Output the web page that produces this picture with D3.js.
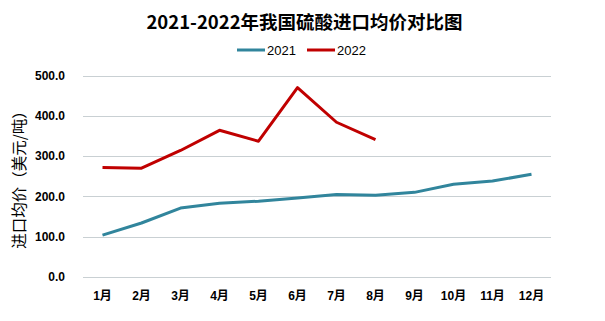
<!DOCTYPE html>
<html>
<head>
<meta charset="utf-8">
<script src="https://cdn.jsdelivr.net/npm/d3@7"></script>
<style>
  body { margin: 0; background: #fff; }
  svg { display: block; }
  .tick text { font-family: "Liberation Sans", "Noto Sans CJK SC", sans-serif; font-weight: bold; font-size: 12px; fill: #000; }
</style>
</head>
<body>
<div id="chart"></div>
<script>
const months = ["1月","2月","3月","4月","5月","6月","7月","8月","9月","10月","11月","12月"]
const price2021 = [104, 134, 171, 183, 188, 196, 205, 203, 210, 230, 238, 255]
const price2022 = [272, 270, 314, 364, 337, 470, 384, 341]
const yTicks = [0, 100, 200, 300, 400, 500]

const width = 605, height = 321
const margin = { top: 75, right: 54, bottom: 44, left: 83 }
const cjk = "\"Noto Sans CJK SC\", sans-serif"

const svg = d3.select("#chart").append("svg")
	.attr("width", width)
	.attr("height", height)

const x = d3.scaleBand().domain(months).range([margin.left, width - margin.right])
const y = d3.scaleLinear().domain([0, 500]).range([height - margin.bottom, margin.top + 0.5])

// horizontal gridlines
svg.append("g")
	.selectAll("line").data(yTicks).enter().append("line")
	.attr("x1", margin.left).attr("x2", width - margin.right)
	.attr("y1", d => Math.round(y(d)) + 0.5).attr("y2", d => Math.round(y(d)) + 0.5)
	.attr("stroke", "#c9d0d3").attr("stroke-width", 1)

const yAxis = svg.append("g")
	.attr("transform", "translate(" + margin.left + ",0)")
	.call(d3.axisLeft(y).tickValues(yTicks).tickFormat(d3.format(".1f")).tickSize(0).tickPadding(18))
yAxis.select(".domain").remove()

const xAxis = svg.append("g")
	.attr("transform", "translate(0," + (height - margin.bottom) + ")")
	.call(d3.axisBottom(x).tickSize(0).tickPadding(14))
xAxis.select(".domain").remove()

const line = d3.line()
	.x((d, i) => x(months[i]) + x.bandwidth() / 2)
	.y(d => y(d))

const series = [
	{ name: "2021", values: price2021, color: "#31859c" },
	{ name: "2022", values: price2022, color: "#c00000" }
]

svg.selectAll("path.series").data(series).enter().append("path")
	.attr("class", "series")
	.attr("d", d => line(d.values))
	.attr("fill", "none")
	.attr("stroke", d => d.color)
	.attr("stroke-width", 3)
	.attr("stroke-linejoin", "round")

// title
svg.append("text")
	.attr("x", width / 2 + 2).attr("y", 29)
	.attr("text-anchor", "middle")
	.style("font-family", cjk).style("font-weight", "bold").style("font-size", "18.5px")
	.text("2021-2022年我国硫酸进口均价对比图")

// legend
const legend = svg.append("g").attr("transform", "translate(237,50)")
	.selectAll("g").data(series).enter().append("g")
	.attr("transform", (d, i) => "translate(" + (i * 70) + ",0)")
legend.append("line")
	.attr("x1", 0).attr("x2", 28).attr("y1", 0).attr("y2", 0)
	.attr("stroke", d => d.color).attr("stroke-width", 3)
legend.append("text")
	.attr("x", 30).attr("y", 5)
	.style("font-family", "\"Liberation Sans\", sans-serif").style("font-size", "13px")
	.text(d => d.name)

// y axis title
svg.append("text")
	.attr("transform", "translate(25," + (margin.top + (height - margin.bottom - margin.top) / 2) + ") rotate(-90)")
	.attr("text-anchor", "middle")
	.style("font-family", cjk).style("font-size", "15.5px")
	.text("进口均价（美元/吨）")
</script>
</body>
</html>
